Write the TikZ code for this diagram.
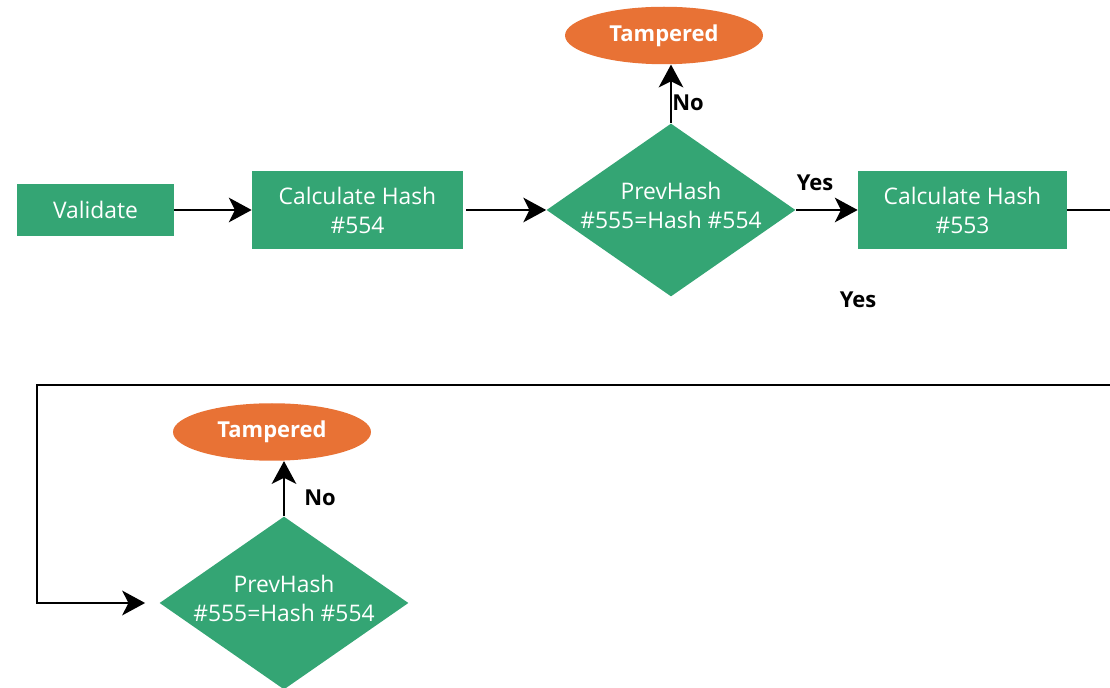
\documentclass[tikz,border=0pt]{standalone}
\usepackage{fontspec}
\setmainfont{Open Sans}
\usepackage{xcolor}
\usepackage{tikz}
\usetikzlibrary{shapes.geometric,arrows.meta}

\definecolor{boxgreen}{HTML}{34A574}
\definecolor{endorange}{HTML}{E87235}

\begin{document}
\begin{tikzpicture}[x=0.02cm,y=-0.02cm,
    stepbox/.style={rectangle,fill=boxgreen,text=white,align=center,inner sep=0pt,
        font=\fontsize{13}{16.5}\selectfont},
    decision/.style={diamond,fill=boxgreen,inner sep=0pt,minimum width=4.98cm,minimum height=3.46cm},
    dtext/.style={text=white,align=center,inner sep=0pt,font=\fontsize{13}{16.5}\selectfont},
    tamper/.style={ellipse,fill=endorange,text=white,inner sep=0pt,minimum width=3.96cm,
        minimum height=1.15cm,font=\fontsize{12.5}{15}\selectfont\bfseries},
    answer/.style={text=black,inner sep=0pt,font=\fontsize{12.5}{15}\selectfont\bfseries},
    flow/.style={line width=1.4pt,black,-{Stealth[length=13pt,width=14pt,inset=3.5pt]}}]
    \useasboundingbox (0,0) rectangle (1110,688);
    \clip (0,0) rectangle (1110,688);

    % upper row
    \node[stepbox,minimum width=3.14cm,minimum height=1.04cm] (validate) at (95.5,210) {Validate};
    \node[stepbox,minimum width=4.22cm,minimum height=1.56cm] (calc1) at (357.5,210) {Calculate Hash\\\#554};
    \node[decision] (chk1) at (671,210) {};
    \node[dtext] (chk1txt) at (671,205) {PrevHash\\\#555=Hash \#554};
    \node[stepbox,minimum width=4.18cm,minimum height=1.56cm] (calc2) at (962.5,210) {Calculate Hash\\\#553};
    \node[tamper] (tamp1) at (664,35.5) {Tampered};

    \draw[flow] (validate) -- (calc1);
    \draw[flow] (calc1.east) ++(3,0) -- (chk1.west);
    \draw[flow] (chk1) -- (calc2);
    \draw[flow] (chk1.north) -- (chk1.north |- tamp1.south);
    \node[answer] (no1) at (688,103) {No};
    \node[answer] (yes1) at (815,183) {Yes};
    \node[answer] (yes2) at (858,300) {Yes};

    % lower row
    \node[decision] (chk2) at (284,603) {};
    \node[dtext] (chk2txt) at (284,598) {PrevHash\\\#555=Hash \#554};
    \node[tamper] (tamp2) at (272,432) {Tampered};
    \coordinate (rt) at (1130,385);
    \coordinate (lt) at (37,385);

    \draw[flow,shorten >=8pt] (calc2.east) -| (rt) -- (lt) |- (chk2.west);
    \draw[flow] (chk2.north) -- (chk2.north |- tamp2.south);
    \node[answer] (no2) at (320,498) {No};
\end{tikzpicture}
\end{document}
